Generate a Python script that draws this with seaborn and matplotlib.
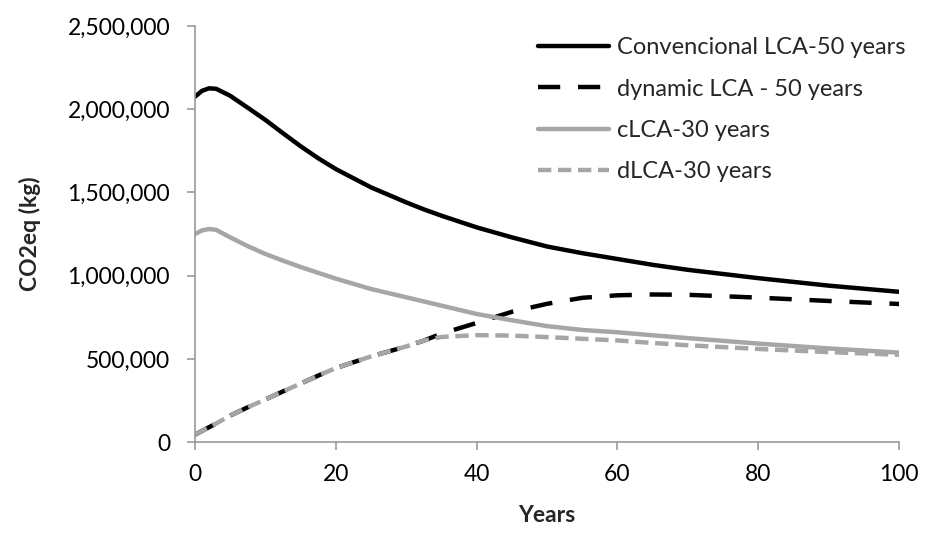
import matplotlib
matplotlib.use('Agg')
import numpy as np
import pandas as pd
import seaborn as sns
import matplotlib.pyplot as plt
from matplotlib.ticker import FuncFormatter

# =========================================
# DATA
# =========================================

years = [0, 1, 2, 3, 5, 7.5, 10, 12.5, 15, 17.5, 20, 25, 30, 32.5, 35,
         40, 45, 50, 55, 60, 65, 70, 80, 90, 100]

conv_lca_50 = [2075000, 2110000, 2125000, 2122000, 2080000, 2008000, 1935000,
               1855000, 1777000, 1705000, 1640000, 1530000, 1440000, 1398000,
               1360000, 1290000, 1230000, 1175000, 1135000, 1100000, 1065000,
               1035000, 985000, 940000, 903000]

dyn_lca_50 = [45000, 68000, 90000, 112000, 160000, 210000, 257000, 305000,
              352000, 400000, 445000, 515000, 575000, 610000, 652000, 716000,
              783000, 831000, 867000, 882000, 887000, 885000, 868000, 848000,
              830000]

clca_30 = [1250000, 1272000, 1280000, 1275000, 1230000, 1177000, 1130000,
           1090000, 1052000, 1017000, 982000, 920000, 870000, 845000, 820000,
           770000, 732000, 697000, 674000, 660000, 642000, 625000, 592000,
           563000, 538000]

dlca_30 = [45000, 68000, 90000, 112000, 160000, 210000, 257000, 305000,
           352000, 400000, 445000, 515000, 575000, 610000, 632000, 643000,
           640000, 631000, 621000, 611000, 596000, 582000, 560000, 541000,
           525000]

labels = [
    "Convencional LCA-50 years",
    "dynamic LCA - 50 years",
    "cLCA-30 years",
    "dLCA-30 years",
]

# =========================================
# STYLE
# =========================================

sns.set_style("ticks")
plt.rcParams['font.family'] = ['Lato', 'DejaVu Sans']

GRAY = "#a6a6a6"
AXIS_GRAY = "#9a9a9a"
FS = 16.5

fig = plt.figure(figsize=(9.26, 5.5), dpi=100)
ax = fig.add_axes([0.2106, 0.196, 0.7604, 0.757])

series = [
    (conv_lca_50, "black", None),
    (dyn_lca_50, "black", (5, 4)),
    (clca_30, GRAY, None),
    (dlca_30, GRAY, (3, 1.5)),
]

for (vals, color, dash), lab in zip(series, labels):
    df = pd.DataFrame({"Years": years, "CO2": vals})
    sns.lineplot(data=df, x="Years", y="CO2", color=color,
                 linewidth=3.2, label=lab, ax=ax)
    ax.lines[-1].set_solid_joinstyle('round')
    if dash is not None:
        ax.lines[-1].set_dashes(dash)
        ax.lines[-1].set_dash_capstyle('butt')

ax.set_xlim(0, 100)
ax.set_ylim(0, 2500000)
ax.set_xticks([0, 20, 40, 60, 80, 100])
ax.set_yticks([0, 500000, 1000000, 1500000, 2000000, 2500000])
ax.yaxis.set_major_formatter(FuncFormatter(lambda v, p: f"{int(v):,}"))

for side in ["top", "right"]:
    ax.spines[side].set_visible(False)
for side in ["left", "bottom"]:
    ax.spines[side].set_color(AXIS_GRAY)
    ax.spines[side].set_linewidth(1.2)

ax.tick_params(axis="both", colors=AXIS_GRAY, labelcolor="black",
               labelsize=FS, length=6, width=1.2, direction="out")
ax.tick_params(axis="x", pad=10)
ax.tick_params(axis="y", pad=12)

ax.set_xlabel("Years", fontsize=FS, fontweight="bold", labelpad=14)
ax.set_ylabel("CO2eq (kg)", fontsize=FS, fontweight="bold", labelpad=19)

leg = ax.legend(loc="upper right", frameon=False, fontsize=17,
                handlelength=3.0, handletextpad=0.35, labelspacing=0.86,
                borderaxespad=0.0, bbox_to_anchor=(1.023, 0.995))

fig.savefig("out.png", dpi=100)
plt.close(fig)
